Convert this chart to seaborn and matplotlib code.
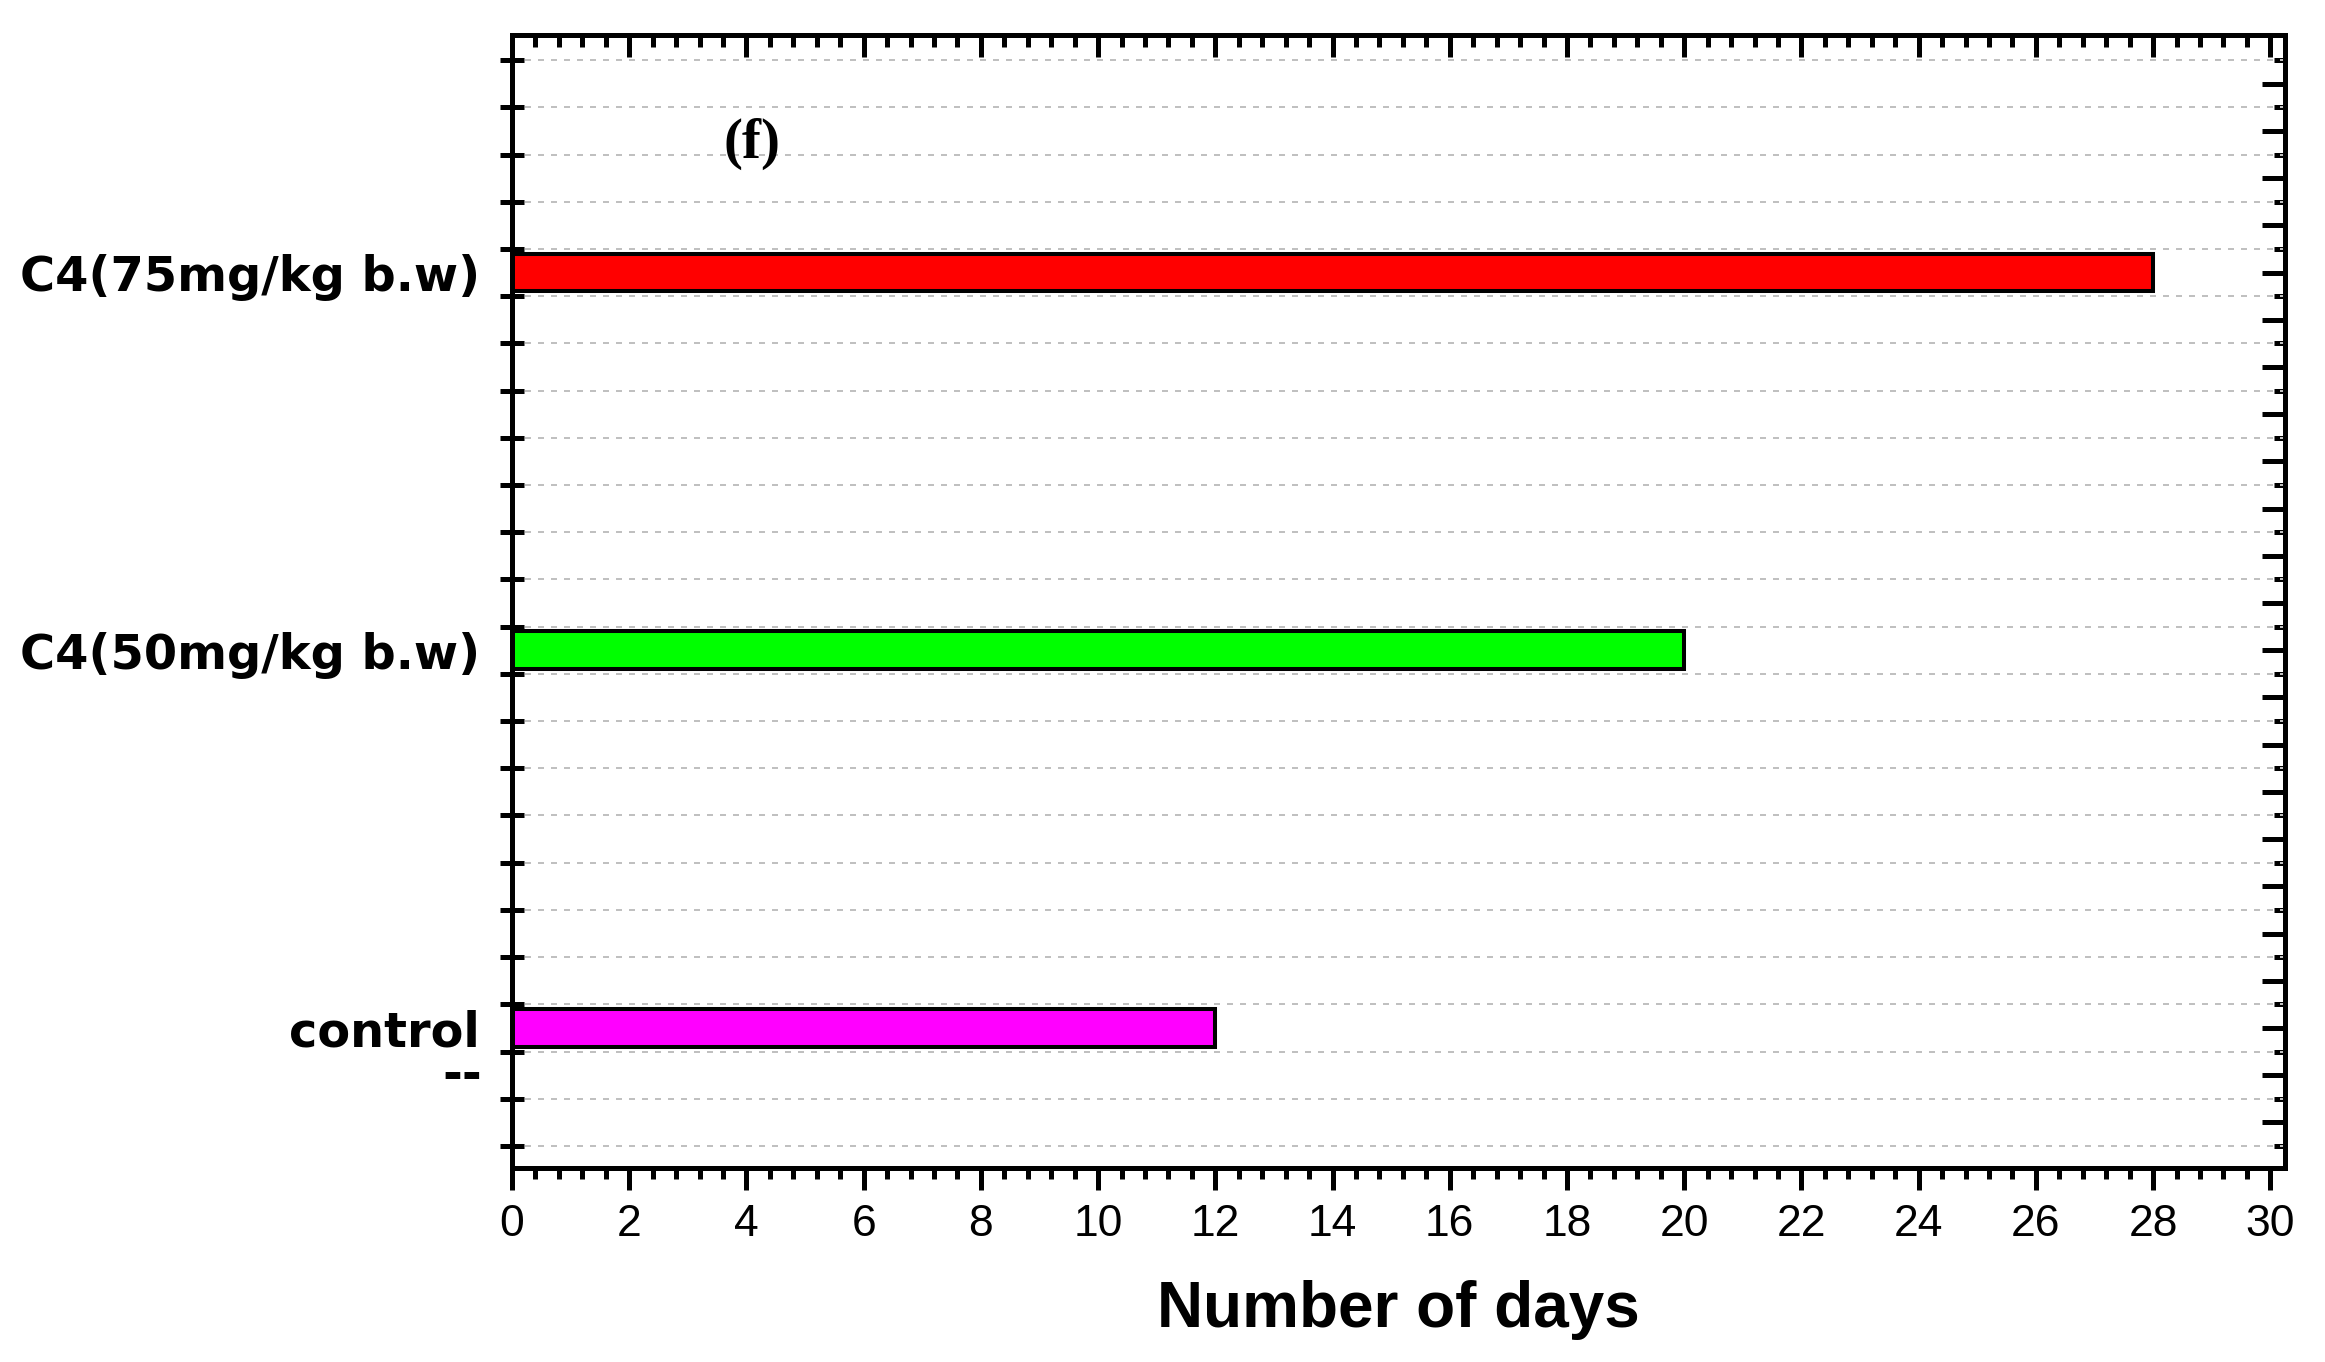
import numpy as np
import pandas as pd
import seaborn as sns
import matplotlib.pyplot as plt
import matplotlib.transforms as mtransforms
from matplotlib.ticker import MultipleLocator, FixedLocator, NullFormatter

# Dados
grupos = ["C4(75mg/kg b.w)", "C4(50mg/kg b.w)", "control"]
dias = [28, 20, 12]
cores = ["#ff0000", "#00ff00", "#ff00ff"]

sns.set_style("white")
plt.rcParams['font.family'] = ['Liberation Sans', 'DejaVu Sans']
plt.rcParams['text.color'] = 'black'
plt.rcParams['axes.labelcolor'] = 'black'
plt.rcParams['xtick.color'] = 'black'
plt.rcParams['ytick.color'] = 'black'

df = pd.DataFrame({"grupo": grupos, "dias": dias})

fig = plt.figure(figsize = (23.25, 13.62), dpi = 100)
ax = fig.add_axes([0.2202, 0.1424, 0.7626, 0.8319])

sns.barplot(data = df, x = "dias", y = "grupo", hue = "grupo", palette = cores, legend = False,
            orient = "h", width = 0.1, saturation = 1, errorbar = None,
            edgecolor = "black", linewidth = 2.9, ax = ax)

# Limites e linhas de grade (8 divisões entre categorias)
passo = 0.125
grade = np.arange(-0.5625, 2.32, passo)
meios = grade[:-1] + passo / 2
ax.set_xlim(0, 30.25)
ax.set_ylim(2.371, -0.629)

ax.set_yticks(grade)
ax.yaxis.set_major_formatter(NullFormatter())
ax.set_yticks(range(len(grupos)), labels = grupos, minor = True)
ax.tick_params(axis = 'y', which = 'major', direction = 'inout', length = 17.3, width = 3.6,
               left = True, right = False, color = 'black')
ax.tick_params(axis = 'y', which = 'minor', direction = 'out', length = 0, pad = 23)
for lab in ax.get_yticklabels(minor = True):
    lab.set_fontfamily('DejaVu Sans')
    lab.set_fontweight('bold')
    lab.set_fontsize(34.5)
    lab.set_color('black')
ax.grid(axis = 'y', which = 'major', color = '#c0c0c0', linestyle = (0, (3, 3.5)), linewidth = 1.44)
ax.grid(axis = 'x', visible = False)
ax.set_ylabel('')

# Eixo x inferior
ax.xaxis.set_major_locator(MultipleLocator(2))
ax.xaxis.set_minor_locator(MultipleLocator(0.4))
ax.tick_params(axis = 'x', which = 'major', direction = 'out', length = 16, width = 3.6,
               labelsize = 32, pad = 10, bottom = True, top = False, color = 'black', labelcolor = 'black')
ax.tick_params(axis = 'x', which = 'minor', direction = 'out', length = 8, width = 3.6,
               bottom = True, top = False, color = 'black')
ax.set_xlabel("Number of days", fontsize = 46, fontweight = 'bold', labelpad = 25, color = 'black')

# Eixo x superior
topo = ax.secondary_xaxis('top')
topo.xaxis.set_major_locator(MultipleLocator(2))
topo.xaxis.set_minor_locator(MultipleLocator(0.4))
topo.xaxis.set_major_formatter(NullFormatter())
topo.tick_params(which = 'major', direction = 'in', length = 16, width = 3.6, color = 'black')
topo.tick_params(which = 'minor', direction = 'in', length = 8.5, width = 3.6, color = 'black')

# Eixo y direito
direita = ax.secondary_yaxis('right')
direita.yaxis.set_major_locator(FixedLocator(meios))
direita.yaxis.set_minor_locator(FixedLocator(grade))
direita.yaxis.set_major_formatter(NullFormatter())
direita.tick_params(which = 'major', direction = 'in', length = 16.5, width = 3.6, color = 'black')
direita.tick_params(which = 'minor', direction = 'in', length = 8, width = 3.6, color = 'black')

for eixo in [ax, topo, direita]:
    for sp in eixo.spines.values():
        sp.set_linewidth(3.6)
        sp.set_color('black')

# Textos extras
ax.text(4.1, -0.34, "(f)", fontsize = 41, fontweight = 'bold', family = 'Liberation Serif',
        ha = 'center', va = 'center', color = 'black')
trans = mtransforms.blended_transform_factory(ax.transAxes, ax.transData)
ax.text(-0.017, 2.125, "--", transform = trans, ha = 'right', va = 'center',
        fontsize = 34.5, fontweight = 'bold', family = 'DejaVu Sans', color = 'black')

fig.savefig('out.png', dpi = 100)
